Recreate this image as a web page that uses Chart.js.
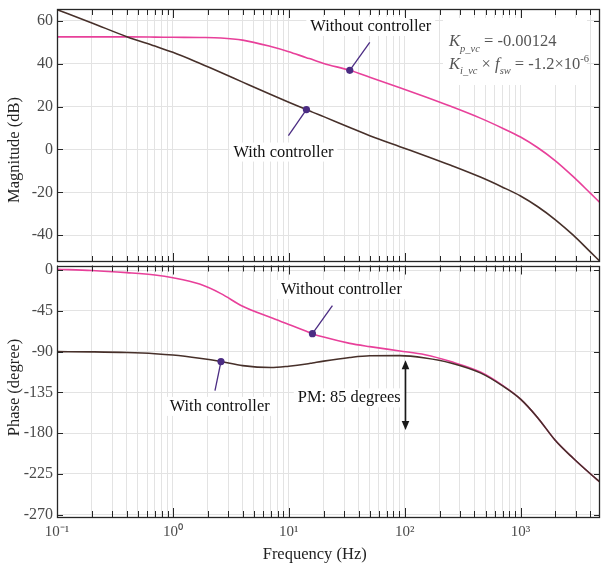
<!DOCTYPE html>
<html>
<head>
<meta charset="utf-8">
<script src="https://cdn.jsdelivr.net/npm/chart.js@4.4.1/dist/chart.umd.min.js"></script>
<style>
  html, body { margin: 0; padding: 0; background: #fff; }
  #wrap { position: relative; width: 601px; height: 565px; overflow: hidden; }
  #wrap canvas { position: absolute; left: 0; }
  #magCanvas { top: 0; width: 601px; height: 264px; }
  #phaseCanvas { top: 263px; width: 601px; height: 302px; }
</style>
</head>
<body>
<div id="wrap">
  <canvas id="magCanvas" width="601" height="264"></canvas>
  <canvas id="phaseCanvas" width="601" height="302"></canvas>
</div>
<script>
// ---- Bode data: loop gain with and without the voltage controller ----
const freqHz = [0.1, 0.2, 0.4, 0.7, 1, 1.7, 2.6, 4, 7, 10, 14.2, 16, 20, 33.6, 50, 91,
                150, 250, 450, 700, 1000, 1400, 2000, 2850, 4000, 4850];
const magWithout = [52.5, 52.5, 52.5, 52.4, 52.3, 52.2, 52.0, 51.0, 48.0, 45.6, 42.8, 41.9, 40.1, 36.9, 33.7, 28.8,
                    24.6, 20.1, 14.6, 9.9, 5.8, 0.9, -5.3, -12.7, -20.4, -24.8];
const magWith = [65.2, 59.0, 52.6, 48.2, 45.3, 40.2, 35.9, 31.4, 25.6, 22.0, 18.6, 17.4, 15.3, 10.2, 6.4, 1.3,
                 -2.9, -7.4, -12.9, -17.6, -21.7, -26.6, -32.8, -40.0, -47.8, -52.2];
const phaseWithout = [0.8, -0.5, -2.9, -5.5, -8.5, -15.5, -26, -40, -52.5, -60, -67.5, -70.2, -74, -80.9, -84.5, -89.3,
                      -93.5, -101, -112.5, -127.2, -142.4, -162.6, -188.1, -207.7, -224.8, -234];
const phaseWith = [-90, -90.3, -91, -92.3, -93.8, -97.4, -101, -105.5, -107.6, -106.1, -103.7, -102.6, -100.5, -96.5, -94.6, -94.4,
                   -97, -102.5, -113.5, -127.8, -142.4, -162.6, -188.1, -207.7, -224.8, -234];

// axis ranges and ticks
const freqRange = [0.1, 4850];
const magRange = [-52.5, 65.5];
const phaseRange = [-272.5, 5];
const magTicks = [60, 40, 20, 0, -20, -40];
const phaseTicks = [0, -45, -90, -135, -180, -225, -270];
const decadeLabels = { '-1': '10⁻¹', '0': '10⁰', '1': '10¹', '2': '10²', '3': '10³' };
const freqTicks = [];
for (let e = -1; e <= 3; e++) {
  for (let m = 1; m <= 9; m++) {
    const v = +(m * Math.pow(10, e)).toPrecision(2);
    if (v <= freqRange[1]) freqTicks.push(v);
  }
}

// annotated points and texts
const seriesNames = ['Without controller', 'With controller'];
const magMarkFreq = [33.6, 14.2];     // [without, with]
const phaseMarkFreq = [16, 2.6];      // [without, with]
const pmFreq = 100;
const pmArrow = [-99.5, -176.5];
const pmText = 'PM: 85 degrees';

const SERIF = '"Liberation Serif", "Times New Roman", Times, serif';
const GRID = '#e3e3e3';
const AXIS = '#262626';
const TICK_TEXT = '#4a4a4a';
const PINK = '#e8409a';
const DARK = '#47302a';
const PURPLE = '#4b2c83';

const valAt = (arr, f) => arr[freqHz.indexOf(f)];
const pts = arr => freqHz.map((f, i) => ({ x: f, y: arr[i] }));
const isDecade = v => Math.abs(Math.log10(v) - Math.round(Math.log10(v))) < 1e-9;
const noPad = s => { s.paddingTop = 0; s.paddingBottom = 0; s.paddingLeft = 0; s.paddingRight = 0; };

// frame, inward tick marks, labels and leaders
const decor = {
  id: 'decor',
  beforeDatasetsDraw(chart, args, o) {
    const { ctx, chartArea: a } = chart;
    const xs = chart.scales.x, ys = chart.scales.y;
    ctx.save();
    (o.notes || []).forEach(n => {
      const px = xs.getPixelForValue(n.f), py = ys.getPixelForValue(n.v);
      ctx.strokeStyle = PURPLE;
      ctx.lineWidth = 1.3;
      ctx.beginPath();
      ctx.moveTo(px, py);
      ctx.lineTo(px + n.lead[0], py + n.lead[1]);
      ctx.stroke();
      ctx.font = '16.4px ' + SERIF;
      const w = ctx.measureText(n.text).width;
      const cx = px + n.at[0], by = py + n.at[1];
      ctx.fillStyle = '#fff';
      ctx.fillRect(cx - w / 2 - 4, by - 14, w + 8, 19);
      ctx.fillStyle = '#111';
      ctx.textAlign = 'center';
      ctx.textBaseline = 'alphabetic';
      ctx.fillText(n.text, cx, by);
    });
    if (o.pm) {
      const px = xs.getPixelForValue(o.pm.f);
      const by = ys.getPixelForValue(o.pm.textV);
      ctx.font = '16.4px ' + SERIF;
      const w = ctx.measureText(o.pm.text).width;
      const rx = px - 4;
      ctx.fillStyle = '#fff';
      ctx.fillRect(rx - w - 4, by - 14, w + 7, 19);
      ctx.fillStyle = '#111';
      ctx.textAlign = 'right';
      ctx.fillText(o.pm.text, rx, by);
    }
    if (o.gains) {
      const bx = a.right - 157, bt = a.top + 9;
      ctx.fillStyle = '#fff';
      ctx.fillRect(bx, bt, 144, 67);
      ctx.fillStyle = '#555';
      ctx.textAlign = 'left';
      ctx.textBaseline = 'alphabetic';
      const big = '16.5px ' + SERIF, bigI = 'italic 16.5px ' + SERIF;
      const small = '10.5px ' + SERIF, smallI = 'italic 10.5px ' + SERIF;
      const runs = (x, y, list) => {
        list.forEach(r => {
          ctx.font = r[1];
          ctx.fillText(r[0], x, y + (r[2] || 0));
          x += ctx.measureText(r[0]).width;
        });
      };
      runs(bx + 6, a.top + 37, [['K', bigI], ['p_vc', smallI, 5.5], [' = -0.00124', big]]);
      runs(bx + 6, a.top + 60.3, [['K', bigI], ['i_vc', smallI, 5], [' × ', big], ['f', bigI], ['sw', smallI, 5],
                                  [' = -1.2×10', big], ['-6', small, -7]]);
    }
    ctx.restore();
  },
  afterDatasetsDraw(chart, args, o) {
    const { ctx, chartArea: a } = chart;
    const xs = chart.scales.x, ys = chart.scales.y;
    ctx.save();
    if (o.pm) {
      const px = Math.round(xs.getPixelForValue(o.pm.f)) + 0.5;
      const y1 = ys.getPixelForValue(o.pm.from), y2 = ys.getPixelForValue(o.pm.to);
      ctx.strokeStyle = '#1a1a1a';
      ctx.fillStyle = '#1a1a1a';
      ctx.lineWidth = 1.6;
      ctx.beginPath(); ctx.moveTo(px, y1 + 6); ctx.lineTo(px, y2 - 6); ctx.stroke();
      ctx.beginPath(); ctx.moveTo(px, y1); ctx.lineTo(px - 3.8, y1 + 9); ctx.lineTo(px + 3.8, y1 + 9); ctx.closePath(); ctx.fill();
      ctx.beginPath(); ctx.moveTo(px, y2); ctx.lineTo(px - 3.8, y2 - 9); ctx.lineTo(px + 3.8, y2 - 9); ctx.closePath(); ctx.fill();
    }
    ctx.strokeStyle = AXIS;
    ctx.lineWidth = 1;
    const seg = (x1, y1, x2, y2) => { ctx.beginPath(); ctx.moveTo(x1, y1); ctx.lineTo(x2, y2); ctx.stroke(); };
    xs.ticks.forEach(t => {
      const px = Math.round(xs.getPixelForValue(t.value)) + 0.5;
      const len = isDecade(t.value) ? 9 : 6;
      seg(px, a.top, px, a.top + len);
      seg(px, a.bottom, px, a.bottom - len);
    });
    ys.ticks.forEach(t => {
      const py = Math.round(ys.getPixelForValue(t.value)) + 0.5;
      seg(a.left, py, a.left + 6, py);
      seg(a.right, py, a.right - 6, py);
    });
    ctx.lineWidth = 1.3;
    ctx.strokeRect(Math.round(a.left) + 0.5, Math.round(a.top) + 0.5,
                   Math.round(a.right - a.left) - 1, Math.round(a.bottom - a.top) - 1);
    ctx.restore();
  },
  afterDraw(chart, args, o) {
    const { ctx } = chart;
    ctx.save();
    ctx.fillStyle = '#222';
    ctx.font = '16.5px ' + SERIF;
    ctx.textBaseline = 'alphabetic';
    ctx.textAlign = 'center';
    if (o.yTitle) {
      ctx.translate(19.3, o.yTitle.cy);
      ctx.rotate(-Math.PI / 2);
      ctx.fillText(o.yTitle.text, 0, 0);
      ctx.setTransform(1, 0, 0, 1, 0, 0);
    }
    if (o.xTitle) {
      ctx.fillText(o.xTitle.text, o.xTitle.cx, o.xTitle.by);
    }
    ctx.restore();
  }
};

function panel(canvasId, cfg) {
  return new Chart(document.getElementById(canvasId), {
    type: 'line',
    data: {
      datasets: [
        { data: cfg.marks, showLine: false, pointRadius: 3.6, pointHoverRadius: 3.6,
          pointBackgroundColor: PURPLE, pointBorderWidth: 0 },
        { data: pts(cfg.withCtrl), borderColor: DARK, borderWidth: 1.6, pointRadius: 0,
          cubicInterpolationMode: 'monotone', fill: false },
        { data: pts(cfg.withoutCtrl), borderColor: PINK, borderWidth: 1.6, pointRadius: 0,
          cubicInterpolationMode: 'monotone', fill: false }
      ]
    },
    options: {
      responsive: false,
      devicePixelRatio: 1,
      animation: false,
      events: [],
      layout: { padding: cfg.padding, autoPadding: false },
      plugins: { legend: { display: false }, tooltip: { enabled: false }, decor: cfg.decor },
      scales: {
        x: {
          type: 'logarithmic',
          min: freqRange[0], max: freqRange[1],
          afterBuildTicks: s => { s.ticks = freqTicks.map(v => ({ value: v, major: isDecade(v) })); },
          afterFit: s => { s.height = cfg.xHeight; noPad(s); },
          ticks: {
            display: cfg.xLabels, autoSkip: false, maxRotation: 0, padding: 6,
            color: TICK_TEXT, font: { family: SERIF, size: 15 },
            callback: v => isDecade(v) ? decadeLabels[String(Math.round(Math.log10(v)))] : ''
          },
          grid: { color: GRID, lineWidth: 1, drawTicks: false },
          border: { display: false }
        },
        y: {
          min: cfg.yRange[0], max: cfg.yRange[1],
          afterBuildTicks: s => { s.ticks = cfg.yTicks.map(v => ({ value: v })); },
          afterFit: s => { s.width = 57; noPad(s); },
          ticks: { padding: 4, color: TICK_TEXT, font: { family: SERIF, size: 16 } },
          grid: { color: GRID, lineWidth: 1, drawTicks: false },
          border: { display: false }
        }
      }
    },
    plugins: [decor]
  });
}

// magnitude panel
panel('magCanvas', {
  withCtrl: magWith, withoutCtrl: magWithout,
  marks: [{ x: magMarkFreq[0], y: valAt(magWithout, magMarkFreq[0]) },
          { x: magMarkFreq[1], y: valAt(magWith, magMarkFreq[1]) }],
  yRange: magRange, yTicks: magTicks,
  padding: { left: 0, right: 1, top: 9, bottom: 2 },
  xHeight: 0, xLabels: false,
  decor: {
    notes: [
      { f: magMarkFreq[0], v: valAt(magWithout, magMarkFreq[0]), lead: [20, -28], at: [21, -39.3], text: seriesNames[0] },
      { f: magMarkFreq[1], v: valAt(magWith, magMarkFreq[1]), lead: [-18, 26], at: [-23, 47], text: seriesNames[1] }
    ],
    gains: true,
    yTitle: { text: 'Magnitude (dB)', cy: 150 }
  }
});

// phase panel
panel('phaseCanvas', {
  withCtrl: phaseWith, withoutCtrl: phaseWithout,
  marks: [{ x: phaseMarkFreq[0], y: valAt(phaseWithout, phaseMarkFreq[0]) },
          { x: phaseMarkFreq[1], y: valAt(phaseWith, phaseMarkFreq[1]) }],
  yRange: phaseRange, yTicks: phaseTicks,
  padding: { left: 0, right: 1, top: 2.5, bottom: 0 },
  xHeight: 48, xLabels: true,
  decor: {
    notes: [
      { f: phaseMarkFreq[0], v: valAt(phaseWithout, phaseMarkFreq[0]), lead: [20, -28], at: [29, -39.7], text: seriesNames[0] },
      { f: phaseMarkFreq[1], v: valAt(phaseWith, phaseMarkFreq[1]), lead: [-6, 29], at: [-1.3, 49.3], text: seriesNames[1] }
    ],
    pm: { f: pmFreq, from: pmArrow[0], to: pmArrow[1], text: pmText, textV: -146 },
    yTitle: { text: 'Phase (degree)', cy: 124.5 },
    xTitle: { text: 'Frequency (Hz)', cx: 314.7, by: 296 }
  }
});
</script>
</body>
</html>
